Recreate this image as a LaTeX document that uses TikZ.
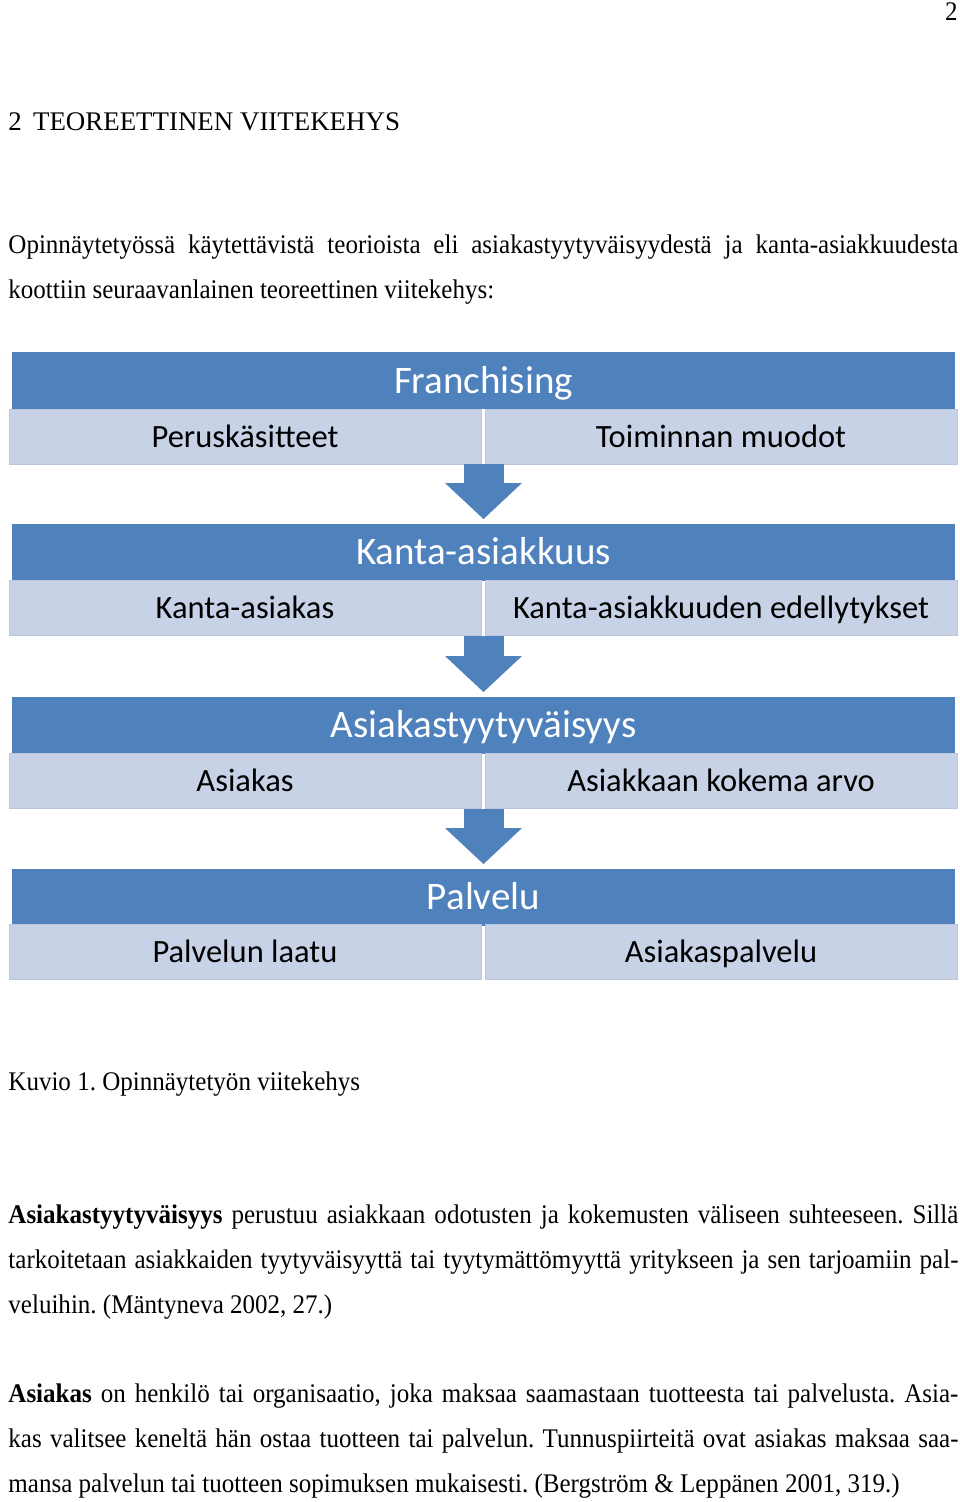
\documentclass[tikz,border=0pt]{standalone}
\usepackage{fontspec}
\setmainfont[FakeStretch=0.93]{Liberation Serif}
\newfontfamily\headfont{Liberation Serif}
\newfontfamily\boxfont{Carlito}
\usetikzlibrary{positioning, arrows.meta, calc}
\definecolor{barBlue}{HTML}{4F81BD}
\definecolor{cellBlue}{HTML}{C7D2E6}
\definecolor{cellEdge}{HTML}{BAC6DC}
\newcommand{\pxu}{0.446pt}
\tolerance=10000
\frenchspacing
\tikzset{
  titlebar/.style={fill=barBlue, minimum width=943*\pxu, minimum height=57*\pxu,
    inner sep=0pt, text=white, text height=13.4pt, text depth=2.2pt,
    font=\boxfont\fontsize{17.4pt}{20pt}\selectfont},
  cellbox/.style={fill=cellBlue, draw=cellEdge, line width=0.4pt,
    minimum width=472*\pxu, minimum height=55*\pxu, inner sep=0pt,
    text height=11.2pt, text depth=1.8pt,
    font=\boxfont\fontsize{14.5pt}{17pt}\selectfont},
  flowarrow/.style={barBlue, line width=17.84pt, shorten >=1.8pt,
    -{Triangle[width=34.34pt, length=16.06pt, line width=0pt]}},
  bodytext/.style={anchor=base west, inner sep=0pt, text width=950*\pxu, align=justify,
    font=\fontsize{12pt}{20.07pt}\selectfont},
  plaintext/.style={inner sep=0pt, font=\fontsize{12pt}{14pt}\selectfont}
}

\begin{document}
\begin{tikzpicture}[x=\pxu, y=-\pxu]
\useasboundingbox (0,0) rectangle (960,1502);
\fill[white] (0,0) rectangle (960,1502);

% page head
\node[plaintext, anchor=base east] (pageno) at (958,20) {2};
\node[plaintext, anchor=base west, font=\headfont\fontsize{12pt}{14pt}\selectfont] (heading) at (8,130)
  {2\hspace{5pt}TEOREETTINEN VIITEKEHYS};
\node[bodytext] (intro) at (8,253)
  {Opinnäytetyössä käytettävistä teorioista eli asiakastyytyväisyydestä ja kanta-asiakkuudesta\linebreak
   koottiin seuraavanlainen teoreettinen viitekehys:};

% framework blocks
\node[titlebar] (fr) at (483.5,380.5) {Franchising};
\node[cellbox] (frL) at (245,436.5) {Peruskäsitteet};
\node[cellbox] (frR) at (721,436.5) {Toiminnan muodot};

\node[titlebar] (ka) at (483.5,552) {Kanta-asiakkuus};
\node[cellbox] (kaL) at (245,608) {Kanta-asiakas};
\node[cellbox] (kaR) at (721,608) {Kanta-asiakkuuden edellytykset};

\node[titlebar] (ay) at (483.5,725) {Asiakastyytyväisyys};
\node[cellbox] (ayL) at (245,781) {Asiakas};
\node[cellbox] (ayR) at (721,781) {Asiakkaan kokema arvo};

\node[titlebar] (pa) at (483.5,897) {Palvelu};
\node[cellbox] (paL) at (245,952) {Palvelun laatu};
\node[cellbox] (paR) at (721,952) {Asiakaspalvelu};

\draw[flowarrow] (fr.center |- frL.south) -- (ka.north);
\draw[flowarrow] (ka.center |- kaL.south) -- (ay.north);
\draw[flowarrow] (ay.center |- ayL.south) -- (pa.north);

% caption and text
\node[plaintext, anchor=base west] (caption) at (8,1090) {Kuvio 1. Opinnäytetyön viitekehys};
\node[bodytext] (parA) at (8,1223)
  {\textbf{Asiakastyytyväisyys} perustuu asiakkaan odotusten ja kokemusten väliseen suhteeseen. Sillä\linebreak
   tarkoitetaan asiakkaiden tyytyväisyyttä tai tyytymättömyyttä yritykseen ja sen tarjoamiin pal-\linebreak
   veluihin. (Mäntyneva 2002, 27.)};
\node[bodytext] (parB) at (8,1402)
  {\textbf{Asiakas} on henkilö tai organisaatio, joka maksaa saamastaan tuotteesta tai palvelusta. Asia-\linebreak
   kas valitsee keneltä hän ostaa tuotteen tai palvelun. Tunnuspiirteitä ovat asiakas maksaa saa-\linebreak
   mansa palvelun tai tuotteen sopimuksen mukaisesti. (Bergström \& Leppänen 2001, 319.)};
\end{tikzpicture}
\end{document}
